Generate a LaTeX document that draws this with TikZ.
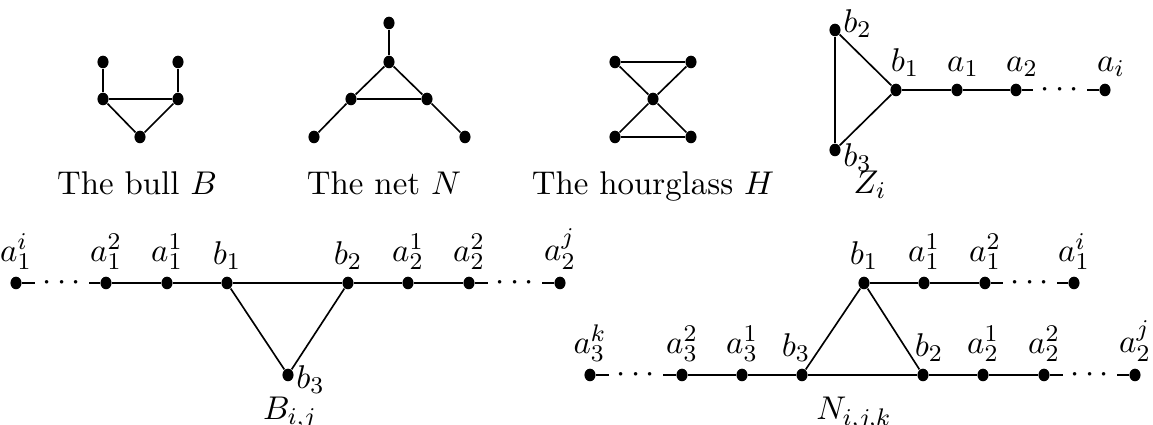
\documentclass[tikz,border=0pt]{standalone}
\usetikzlibrary{shapes.geometric}
\begin{document}
\begin{tikzpicture}[x=0.333pt, y=-0.333pt, font=\fontsize{10.95}{13}\selectfont,
    vertex/.style={ellipse, fill, inner sep=0pt, minimum width=3.7pt, minimum height=4.2pt},
    dots/.style={inner xsep=2.5pt, inner ysep=0pt},
    edge/.style={draw, line width=0.8pt},
    slant/.style={draw, line width=0.55pt},
    every label/.style={inner sep=0.5pt},
    label distance=1.5pt,
    side/.style={label distance=0pt, anchor=west},
    caption/.style={anchor=base, inner sep=0pt}]
    \useasboundingbox (0,0) rectangle (1153,425);

    % the bull
    \node [vertex] (bull1) at (103,62) {};
    \node [vertex] (bull2) at (178,62) {};
    \node [vertex] (bull3) at (103,99) {};
    \node [vertex] (bull4) at (178,99) {};
    \node [vertex] (bull5) at (140,137) {};
    \path [edge] (bull1) -- (bull3) -- (bull4) -- (bull2);
    \path [slant] (bull3) -- (bull5) -- (bull4);
    \node [caption] (bullcap) at (137,195) {The bull $B$};

    % the net
    \node [vertex] (net1) at (389,23) {};
    \node [vertex] (net2) at (389,62) {};
    \node [vertex] (net3) at (351,99) {};
    \node [vertex] (net4) at (427,99) {};
    \node [vertex] (net5) at (314,137) {};
    \node [vertex] (net6) at (465,137) {};
    \path [edge] (net1) -- (net2);
    \path [edge] (net3) -- (net4);
    \path [slant] (net5) -- (net3) -- (net2) -- (net4) -- (net6);
    \node [caption] (netcap) at (384,195) {The net $N$};

    % the hourglass
    \node [vertex] (hour1) at (615,62) {};
    \node [vertex] (hour2) at (691,62) {};
    \node [vertex] (hour3) at (653,99) {};
    \node [vertex] (hour4) at (615,137) {};
    \node [vertex] (hour5) at (691,137) {};
    \path [edge] (hour1) -- (hour2);
    \path [edge] (hour4) -- (hour5);
    \path [slant] (hour1) -- (hour3) -- (hour5);
    \path [slant] (hour2) -- (hour3) -- (hour4);
    \node [caption] (hourcap) at (653,195) {The hourglass $H$};

    % Z_i
    \node [vertex, label={[side, yshift=2pt]east:$b_2$}] (zb2) at (835,30) {};
    \node [vertex, label={[side, yshift=-2.5pt]east:$b_3$}] (zb3) at (835,150) {};
    \node [vertex, label={[xshift=3pt]above:$b_1$}] (zb1) at (896,90) {};
    \node [vertex, label={[xshift=2pt]above:$a_1$}] (za1) at (957,90) {};
    \node [vertex, label={[xshift=2pt]above:$a_2$}] (za2) at (1016,90) {};
    \node [dots] (zdots) at (1060,90) {$\cdots$};
    \node [vertex, label={[xshift=2pt]above:$a_i$}] (zai) at (1105,90) {};
    \path [edge] (zb2) -- (zb3);
    \path [slant] (zb2) -- (zb1) -- (zb3);
    \path [edge] (zb1) -- (za1) -- (za2) -- (zdots) -- (zai);
    \node [caption] (zcap) at (870,194) {$Z_i$};

    % B_{i,j}
    \node [vertex, label={above:$a_1^i$}] (ba1i) at (16,283) {};
    \node [dots] (bdots1) at (62,283) {$\cdots$};
    \node [vertex, label={above:$a_1^2$}] (ba12) at (106,283) {};
    \node [vertex, label={above:$a_1^1$}] (ba11) at (167,283) {};
    \node [vertex, label={above:$b_1$}] (bb1) at (227,283) {};
    \node [vertex, label={above:$b_2$}] (bb2) at (348,283) {};
    \node [vertex, label={above:$a_2^1$}] (ba21) at (408,283) {};
    \node [vertex, label={above:$a_2^2$}] (ba22) at (469,283) {};
    \node [dots] (bdots2) at (515,283) {$\cdots$};
    \node [vertex, label={above:$a_2^j$}] (ba2j) at (560,283) {};
    \node [vertex, label={[side, yshift=-1.5pt]east:$b_3$}] (bb3) at (288,375) {};
    \path [edge] (ba1i) -- (bdots1) -- (ba12) -- (ba11) -- (bb1) -- (bb2) -- (ba21) -- (ba22) -- (bdots2) -- (ba2j);
    \path [slant] (bb1) -- (bb3) -- (bb2);
    \node [caption] (bcap) at (290,420) {$B_{i,j}$};

    % N_{i,j,k}
    \node [vertex, label={above:$b_1$}] (nb1) at (864,283) {};
    \node [vertex, label={above:$a_1^1$}] (na11) at (924,283) {};
    \node [vertex, label={above:$a_1^2$}] (na12) at (985,283) {};
    \node [dots] (ndots1) at (1030,283) {$\cdots$};
    \node [vertex, label={above:$a_1^i$}] (na1i) at (1074,283) {};
    \node [vertex, label={above:$a_3^k$}] (na3k) at (590,375) {};
    \node [dots] (ndots3) at (636,375) {$\cdots$};
    \node [vertex, label={above:$a_3^2$}] (na32) at (682,375) {};
    \node [vertex, label={above:$a_3^1$}] (na31) at (742,375) {};
    \node [vertex, label={[xshift=-2pt]above:$b_3$}] (nb3) at (802,375) {};
    \node [vertex, label={[xshift=2pt]above:$b_2$}] (nb2) at (923,375) {};
    \node [vertex, label={above:$a_2^1$}] (na21) at (983,375) {};
    \node [vertex, label={above:$a_2^2$}] (na22) at (1044,375) {};
    \node [dots] (ndots2) at (1090,375) {$\cdots$};
    \node [vertex, label={above:$a_2^j$}] (na2j) at (1135,375) {};
    \path [edge] (nb1) -- (na11) -- (na12) -- (ndots1) -- (na1i);
    \path [edge] (na3k) -- (ndots3) -- (na32) -- (na31) -- (nb3) -- (nb2) -- (na21) -- (na22) -- (ndots2) -- (na2j);
    \path [slant] (nb3) -- (nb1) -- (nb2);
    \node [caption] (ncap) at (854,420) {$N_{i,j,k}$};
\end{tikzpicture}
\end{document}
